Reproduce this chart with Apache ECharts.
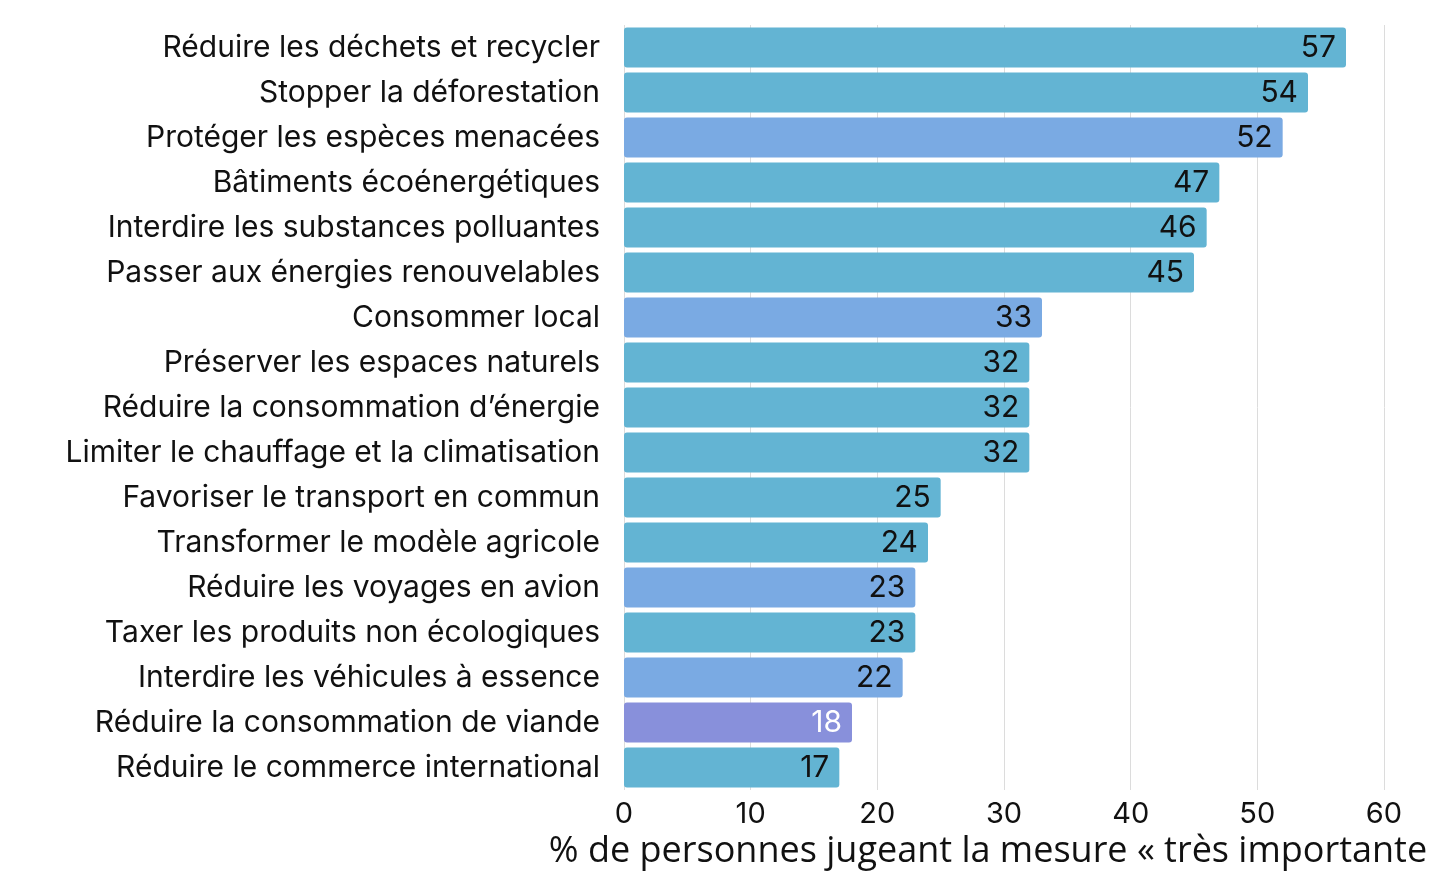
<!DOCTYPE html>
<html>
<head>
<meta charset="utf-8">
<script src="https://cdn.jsdelivr.net/npm/echarts@6/dist/echarts.min.js"></script>
<style>
  html, body { margin: 0; padding: 0; background: #fff; }
  #chart { width: 1456px; height: 878px; }
</style>
</head>
<body>
<div id="chart"></div>
<script>
// catégories, de haut en bas
const categories = [
  'Réduire les déchets et recycler',
  'Stopper la déforestation',
  'Protéger les espèces menacées',
  'Bâtiments écoénergétiques',
  'Interdire les substances polluantes',
  'Passer aux énergies renouvelables',
  'Consommer local',
  'Préserver les espaces naturels',
  'Réduire la consommation d’énergie',
  'Limiter le chauffage et la climatisation',
  'Favoriser le transport en commun',
  'Transformer le modèle agricole',
  'Réduire les voyages en avion',
  'Taxer les produits non écologiques',
  'Interdire les véhicules à essence',
  'Réduire la consommation de viande',
  'Réduire le commerce international'
];
const values = [57, 54, 52, 47, 46, 45, 33, 32, 32, 32, 25, 24, 23, 23, 22, 18, 17];
// groupe de couleur de chaque barre: 0 = turquoise, 1 = bleu, 2 = violet
const groups = [0, 0, 1, 0, 0, 0, 1, 0, 0, 0, 0, 0, 1, 0, 1, 2, 0];
const xTicks = [0, 10, 20, 30, 40, 50, 60];

const palette = ['#63b4d3', '#7aaae3', '#8890db'];
const labelColors = ['#111', '#111', '#fff'];

let option = {
    animation: false,
    grid: {
        left: 624,
        right: 72,
        top: 25,
        bottom: 88,
        outerBoundsMode: 'none'
    },
    xAxis: {
        type: 'value',
        min: xTicks[0],
        max: xTicks[xTicks.length - 1],
        interval: 10,
        name: '% de personnes jugeant la mesure « très importante',
        nameLocation: 'middle',
        nameGap: 42,
        nameTextStyle: {
            fontFamily: 'Open Sans',
            fontSize: 36,
            color: '#111',
            padding: [0, 32, 0, 0]
        },
        axisLine: { show: false },
        axisTick: { show: false },
        axisLabel: {
            fontFamily: 'Inter',
            fontSize: 29,
            color: '#111',
            margin: 10
        },
        splitLine: { lineStyle: { color: '#dcdcdc', width: 1 } }
    },
    yAxis: {
        type: 'category',
        inverse: true,
        data: categories,
        axisLine: { show: false },
        axisTick: { show: false },
        axisLabel: {
            fontFamily: 'Inter',
            fontSize: 30,
            color: '#111',
            margin: 24
        }
    },
    series: [{
        type: 'bar',
        barCategoryGap: '11%',
        data: values.map((v, i) => ({
            value: v,
            itemStyle: { color: palette[groups[i]] },
            label: { color: labelColors[groups[i]] }
        })),
        itemStyle: { borderRadius: 3 },
        label: {
            show: true,
            position: 'insideRight',
            distance: 10,
            fontFamily: 'Inter',
            fontSize: 30
        }
    }]
};

var myChart = echarts.init(document.getElementById('chart'));
myChart.setOption(option);
</script>
</body>
</html>
